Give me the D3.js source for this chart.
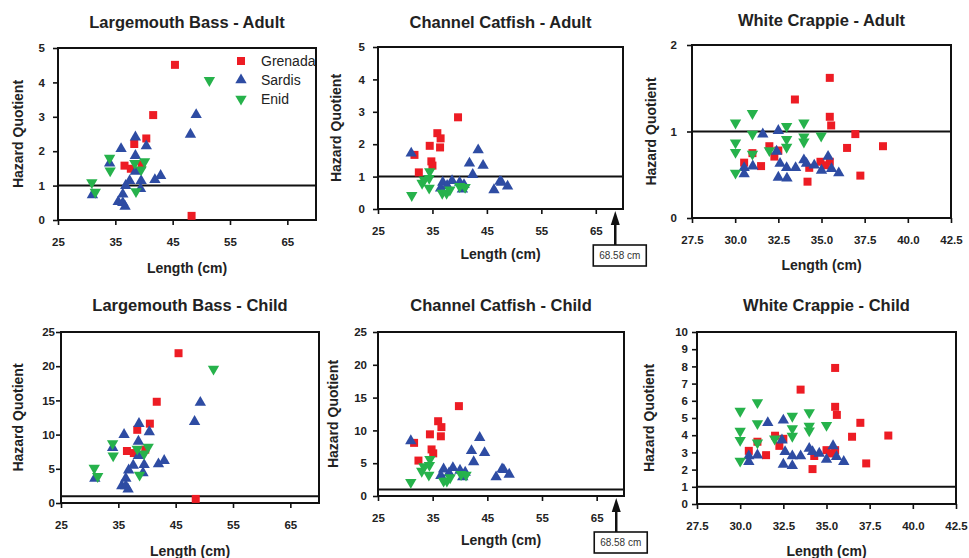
<!DOCTYPE html>
<html>
<head>
<meta charset="utf-8">
<script src="https://cdn.jsdelivr.net/npm/d3@7"></script>
<style>
  body { margin: 0; background: #fff; }
  text { font-family: "Liberation Sans", Arial, sans-serif; }
</style>
</head>
<body>
<svg id="chart" width="969" height="558"></svg>
<script>
// data: [length cm, hazard quotient]
const lmbAdultGrenada = [[45.4,4.51],[41.6,3.05],[40.4,2.37],[38.3,2.21],[36.6,1.58],[37.7,1.49],[39.6,1.62],[48.3,0.12]];
const lmbAdultSardis = [[31.0,0.73],[34.0,1.65],[36.0,2.07],[38.5,2.41],[38.5,1.87],[40.4,2.15],[38.5,1.41],[37.5,1.14],[36.8,1.0],[36.3,0.75],[35.5,0.53],[36.3,0.50],[36.7,0.39],[39.5,1.14],[39.4,0.91],[41.9,1.17],[42.9,1.29],[48.1,2.49],[49.1,3.06]];
const lmbAdultEnid = [[30.9,1.09],[31.5,0.81],[34.0,1.80],[34.1,1.43],[38.4,1.65],[40.1,1.70],[39.5,1.46],[38.6,0.83],[51.4,4.06]];

const ccAdultGrenada = [[39.7,2.83],[35.9,2.34],[36.5,2.18],[34.5,1.95],[36.4,1.90],[31.7,1.67],[34.8,1.47],[35.0,1.34],[32.5,1.13]];
const ccAdultSardis = [[31.1,1.72],[43.4,1.82],[41.8,1.41],[44.3,1.34],[42.4,1.06],[36.9,0.82],[38.6,0.87],[36.5,0.64],[37.7,0.72],[40.0,0.82],[40.8,0.75],[40.5,0.61],[46.3,0.59],[47.4,0.85],[47.7,0.82],[48.8,0.70]];
const ccAdultEnid = [[31.2,0.42],[33.1,0.80],[33.5,0.90],[34.5,1.16],[34.4,0.95],[34.4,0.65],[36.8,0.49],[37.6,0.49],[38.2,0.59],[40.0,0.70],[41.0,0.67]];

const wcAdultGrenada = [[35.48,1.62],[33.46,1.37],[35.48,1.17],[35.56,1.07],[36.96,0.97],[38.56,0.83],[36.48,0.81],[31.98,0.83],[32.5,0.78],[31.0,0.75],[32.27,0.71],[30.52,0.64],[31.5,0.60],[34.94,0.65],[35.48,0.65],[35.23,0.61],[34.29,0.58],[34.19,0.42],[37.25,0.49]];
const wcAdultSardis = [[31.6,0.97],[32.5,1.01],[32.4,0.77],[32.6,0.63],[32.98,0.58],[33.5,0.58],[33.98,0.67],[34.13,0.63],[34.58,0.61],[35.38,0.71],[35.58,0.57],[35.0,0.55],[36.0,0.52],[30.52,0.58],[30.52,0.51],[31.02,0.60],[32.5,0.47],[33.0,0.46]];
const wcAdultEnid = [[30.02,1.10],[31.0,1.21],[32.98,1.06],[33.98,1.10],[30.02,0.87],[31.0,0.97],[30.02,0.76],[32.98,0.91],[32.98,0.82],[33.98,0.94],[33.98,0.88],[34.98,0.95],[31.0,0.74],[31.98,0.78],[30.02,0.52]];

const lmbChildGrenada = [[45.5,21.9],[41.7,14.8],[40.5,11.6],[38.3,10.7],[36.5,7.6],[37.7,7.3],[39.7,7.8],[48.5,0.6]];
const lmbChildSardis = [[30.9,3.6],[34.0,8.1],[36.0,10.0],[38.6,11.6],[38.5,9.0],[40.4,10.4],[38.5,6.9],[37.6,5.5],[36.8,4.8],[36.3,3.6],[35.6,2.5],[36.3,2.5],[36.7,2.0],[39.5,5.6],[39.3,4.4],[42.0,5.7],[43.0,6.2],[48.3,11.9],[49.3,14.7]];
const lmbChildEnid = [[30.8,5.1],[31.4,3.9],[34.0,8.7],[34.1,6.9],[38.3,7.9],[40.2,8.2],[39.5,7.2],[38.7,4.1],[51.6,19.6]];

const ccChildGrenada = [[39.8,13.7],[36.0,11.4],[36.6,10.5],[34.5,9.4],[36.5,9.1],[31.6,8.1],[34.8,7.1],[35.1,6.5],[32.4,5.4]];
const ccChildSardis = [[31.0,8.4],[43.6,8.9],[42.1,6.9],[44.5,6.6],[42.5,5.2],[37.0,4.1],[38.7,4.3],[36.5,3.1],[38.0,3.5],[40.0,3.9],[40.95,3.6],[40.5,2.9],[46.6,2.9],[47.7,4.1],[48.0,4.0],[49.0,3.3]];
const ccChildEnid = [[31.0,2.1],[33.0,3.8],[33.4,4.5],[34.5,5.6],[34.4,4.7],[34.3,3.2],[37.0,2.3],[37.6,2.3],[38.2,2.8],[40.2,3.3],[41.1,3.2]];

const wcChildGrenada = [[35.5,7.91],[33.5,6.65],[35.5,5.65],[35.6,5.18],[36.96,4.72],[38.58,3.98],[36.48,3.91],[32.02,3.97],[32.5,3.79],[31.0,3.62],[32.27,3.38],[30.5,3.09],[31.5,2.84],[35.0,3.13],[35.5,3.13],[35.25,2.94],[34.29,2.79],[34.19,2.03],[37.3,2.36]];
const wcChildSardis = [[31.6,4.72],[32.5,4.87],[32.42,3.71],[32.6,3.04],[33.02,2.79],[33.5,2.79],[34.0,3.23],[34.19,3.04],[34.58,2.94],[35.38,3.38],[35.58,2.75],[35.0,2.59],[36.0,2.46],[30.5,2.79],[30.5,2.46],[31.0,2.84],[32.5,2.30],[33.02,2.22]];
const wcChildEnid = [[30.0,5.40],[31.0,5.90],[33.02,5.11],[34.0,5.32],[30.0,4.24],[31.0,4.68],[30.0,3.71],[33.02,4.39],[33.02,3.95],[34.0,4.53],[34.0,4.26],[35.0,4.58],[31.0,3.56],[32.0,3.79],[30.0,2.50]];

const seriesNames = ["Grenada", "Sardis", "Enid"];
const lengthTicksBig = [25, 35, 45, 55, 65];
const lengthTicksWc = [27.5, 30, 32.5, 35, 37.5, 40, 42.5];
const hqTicksAdult = [0, 1, 2, 3, 4, 5];
const hqTicksWcAdult = [0, 1, 2];
const hqTicksChild = [0, 5, 10, 15, 20, 25];
const hqTicksWcChild = [0, 1, 2, 3, 4, 5, 6, 7, 8, 9, 10];
const limitHQ = 1;
const maxLengthCm = 68.58;

const colors = { Grenada: "#ed1c24", Sardis: "#2e4ca3", Enid: "#26b24b" };
const shapes = { Grenada: "square", Sardis: "up", Enid: "down" };

const svg = d3.select("#chart");

const panels = [
  { title: "Largemouth Bass - Adult", box: [58, 48, 316, 220], xd: [25, 70], xt: lengthTicksBig, yd: [0, 5], yt: hqTicksAdult,
    data: [lmbAdultGrenada, lmbAdultSardis, lmbAdultEnid], ypad: 8, legend: true, ylabX: 18, xlabY: 273, titleY: 28 },
  { title: "Channel Catfish - Adult", box: [378, 47, 623, 209], xd: [25, 70], xt: lengthTicksBig, yd: [0, 5], yt: hqTicksAdult,
    data: [ccAdultGrenada, ccAdultSardis, ccAdultEnid], ypad: 8, arrow: true, ylabX: 336, xlabY: 259, titleY: 28 },
  { title: "White Crappie - Adult", box: [692, 45, 951, 218], xd: [27.5, 42.5], xt: lengthTicksWc, yd: [0, 2], yt: hqTicksWcAdult,
    data: [wcAdultGrenada, wcAdultSardis, wcAdultEnid], ypad: 10, ylabX: 651, xlabY: 270, titleY: 26, fmt: ".1f" },
  { title: "Largemouth Bass - Child", box: [61, 332, 319, 503], xd: [25, 70], xt: lengthTicksBig, yd: [0, 25], yt: hqTicksChild,
    data: [lmbChildGrenada, lmbChildSardis, lmbChildEnid], ypad: 1, ylabX: 18, xlabY: 556, titleY: 311 },
  { title: "Channel Catfish - Child", box: [378, 332, 624, 496], xd: [25, 70], xt: lengthTicksBig, yd: [0, 25], yt: hqTicksChild,
    data: [ccChildGrenada, ccChildSardis, ccChildEnid], ypad: 6, arrow: true, ylabX: 333, xlabY: 545, titleY: 311 },
  { title: "White Crappie - Child", box: [697, 332, 956, 504], xd: [27.5, 42.5], xt: lengthTicksWc, yd: [0, 10], yt: hqTicksWcChild,
    data: [wcChildGrenada, wcChildSardis, wcChildEnid], ypad: 4, ylabX: 649, xlabY: 556, titleY: 311, fmt: ".1f" }
];

function markerPath(shape) {
  if (shape === "square") return d3.symbol(d3.symbolSquare, 64)();
  return d3.symbol(d3.symbolTriangle, 56)();
}

function drawMarker(g, shape, color, px, py) {
  g.append("path")
    .attr("d", markerPath(shape))
    .attr("transform", "translate(" + px + "," + py + ")" + (shape === "down" ? " rotate(180)" : ""))
    .attr("fill", color);
}

panels.forEach(p => {
  const [x0, y0, x1, y1] = p.box;
  const x = d3.scaleLinear().domain(p.xd).range([x0, x1]);
  const y = d3.scaleLinear().domain(p.yd).range([y1, y0]);
  const g = svg.append("g");

  // axes
  const xa = g.append("g").attr("transform", "translate(0," + y1 + ")")
    .call(d3.axisBottom(x).tickValues(p.xt).tickSize(5).tickSizeOuter(0).tickPadding(13)
      .tickFormat(d3.format(p.fmt || "d")));
  const ya = g.append("g").attr("transform", "translate(" + x0 + ",0)")
    .call(d3.axisLeft(y).tickValues(p.yt).tickSize(5).tickSizeOuter(0).tickPadding(p.ypad)
      .tickFormat(d3.format("d")));
  [xa, ya].forEach(a => {
    a.select(".domain").remove();
    a.selectAll(".tick line").attr("stroke", "#111").attr("stroke-width", 1.6);
    a.selectAll(".tick text").attr("font-size", 11.5).attr("font-weight", "bold").attr("fill", "#222")
      .style("font-family", "'Liberation Sans', Arial, sans-serif");
  });

  // frame
  g.append("rect").attr("x", x0).attr("y", y0).attr("width", x1 - x0).attr("height", y1 - y0)
    .attr("fill", "none").attr("stroke", "#111").attr("stroke-width", 2);

  // HQ = 1 line
  g.append("line").attr("x1", x0).attr("x2", x1).attr("y1", y(limitHQ)).attr("y2", y(limitHQ))
    .attr("stroke", "#111").attr("stroke-width", 2);

  // points
  p.data.forEach((pts, i) => {
    const name = seriesNames[i];
    pts.forEach(d => drawMarker(g, shapes[name], colors[name], x(d[0]), y(d[1])));
  });

  // titles
  const cx = (x0 + x1) / 2;
  g.append("text").attr("x", cx).attr("y", p.titleY).attr("text-anchor", "middle")
    .attr("font-size", 16.5).attr("font-weight", "bold").attr("fill", "#222").text(p.title);
  g.append("text").attr("x", cx).attr("y", p.xlabY).attr("text-anchor", "middle")
    .attr("font-size", 14).attr("font-weight", "bold").attr("fill", "#222").text("Length (cm)");
  g.append("text").attr("transform", "translate(" + (p.ylabX + 5) + "," + ((y0 + y1) / 2) + ") rotate(-90)")
    .attr("text-anchor", "middle").attr("font-size", 14).attr("font-weight", "bold").attr("fill", "#222")
    .text("Hazard Quotient");

  // legend
  if (p.legend) {
    seriesNames.forEach((name, i) => {
      const ly = 61 + i * 19;
      drawMarker(g, shapes[name], colors[name], 241, ly);
      g.append("text").attr("x", 261).attr("y", ly + 5).attr("font-size", 14).attr("fill", "#222").text(name);
    });
  }

  // max length annotation
  if (p.arrow) {
    const ax = x(maxLengthCm);
    const tipY = y1 + 2;
    const boxY = y1 + 36;
    g.append("line").attr("x1", ax).attr("x2", ax).attr("y1", tipY + 10).attr("y2", boxY)
      .attr("stroke", "#111").attr("stroke-width", 2.5);
    g.append("path").attr("d", "M" + ax + "," + tipY + "L" + (ax - 4.5) + "," + (tipY + 14) + "L" + (ax + 4.5) + "," + (tipY + 14) + "Z")
      .attr("fill", "#111");
    g.append("rect").attr("x", ax - 22).attr("y", boxY).attr("width", 53).attr("height", 21)
      .attr("fill", "#fff").attr("stroke", "#111").attr("stroke-width", 1.6);
    g.append("text").attr("x", ax + 4.5).attr("y", boxY + 14).attr("text-anchor", "middle")
      .attr("font-size", 10).attr("fill", "#333").text(maxLengthCm + " cm");
  }
});
</script>
</body>
</html>
